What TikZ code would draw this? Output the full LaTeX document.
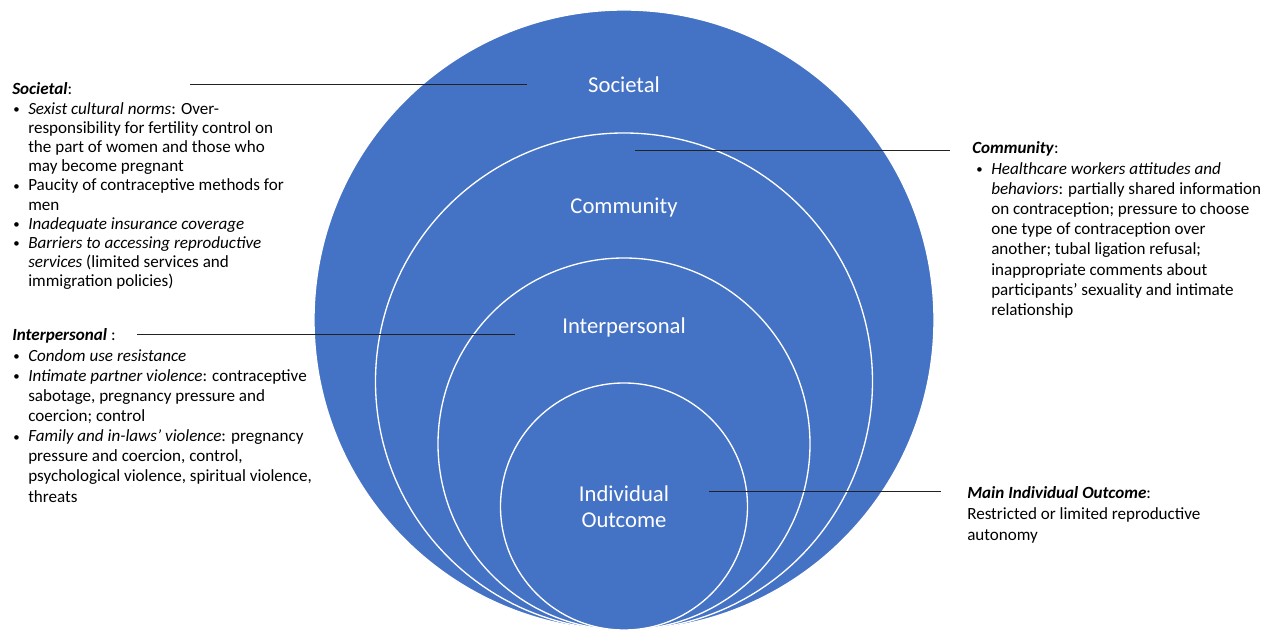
\documentclass[tikz,border=0pt]{standalone}
\usepackage{fontspec}
\setmainfont{Carlito}
\newlength\pxu
\setlength\pxu{0.75pt}
\definecolor{ringblue}{HTML}{4472C4}
\definecolor{leaderline}{HTML}{222222}
% body text size with a chosen line spacing
\newcommand\bodyfont[1]{\fontsize{12.8pt}{#1}\selectfont}
% bullet and hanging indent for the lists
\newcommand\bul{\makebox[16\pxu][l]{\hspace*{1\pxu}\raisebox{0.6\pxu}{\scalebox{0.75}{\textbullet}}}}
\newcommand\cont{\hspace*{16\pxu}}
\begin{document}
\begin{tikzpicture}[x=0.75pt,y=-0.75pt,
  ring/.style={circle,fill=ringblue,draw=white,line width=1pt,inner sep=0pt,outer sep=0pt},
  ringlabel/.style={text=white,font=\fontsize{17pt}{19.5pt}\selectfont,align=center,inner sep=0pt},
  textblock/.style={anchor=base west,inner sep=0pt},
  leader/.style={draw=leaderline,line width=0.7pt}]
\useasboundingbox (0,0) rectangle (1265,630);

% nested circles, all touching at the bottom
\node[ring,minimum size=620\pxu] (societal) at (624,320) {};
\node[ring,minimum size=497\pxu] (community) at (624,381.5) {};
\node[ring,minimum size=372\pxu] (interpersonal) at (624,444) {};
\node[ring,minimum size=247\pxu] (individual) at (624,506.5) {};

% circle labels
\node[ringlabel] (lsoc) at (624,85) {Societal};
\node[ringlabel] (lcom) at (624,208) {Community};
\node[ringlabel] (lint) at (624,327) {Interpersonal};
\node[ringlabel] (lind) at (624,507) {Individual\\Outcome};

% left side: societal factors
\node[textblock] (tsoc) at (12,95) {\parbox[t]{330\pxu}{\bodyfont{14.4pt}\raggedright
\textbf{\textit{Societal}}:\\
\bul\textit{Sexist cultural norms}: Over-\\
\cont responsibility for fertility control on\\
\cont the part of women and those who\\
\cont may become pregnant\\
\bul Paucity of contraceptive methods for\\
\cont men\\
\bul\textit{Inadequate insurance coverage}\\
\bul\textit{Barriers to accessing reproductive}\\
\cont\textit{services} (limited services and\\
\cont immigration policies)}};

% left side: interpersonal factors
\node[textblock] (tint) at (12,341) {\parbox[t]{330\pxu}{\bodyfont{15.1pt}\raggedright
\textbf{\textit{Interpersonal}} :\\
\bul\textit{Condom use resistance}\\
\bul\textit{Intimate partner violence}: contraceptive\\
\cont sabotage, pregnancy pressure and\\
\cont coercion; control\\
\bul\textit{Family and in-laws’ violence}: pregnancy\\
\cont pressure and coercion, control,\\
\cont psychological violence, spiritual violence,\\
\cont threats}};

% right side: community factors
\node[textblock] (tcom) at (972,154) {\parbox[t]{295\pxu}{\bodyfont{15.15pt}\raggedright
\textbf{\textit{Community}}:\\
\hspace*{3\pxu}\bul\textit{Healthcare workers attitudes and}\\
\hspace*{3\pxu}\cont\textit{behaviors}: partially shared information\\
\hspace*{3\pxu}\cont on contraception; pressure to choose\\
\hspace*{3\pxu}\cont one type of contraception over\\
\hspace*{3\pxu}\cont another; tubal ligation refusal;\\
\hspace*{3\pxu}\cont inappropriate comments about\\
\hspace*{3\pxu}\cont participants’ sexuality and intimate\\
\hspace*{3\pxu}\cont relationship}};

% right side: main outcome
\node[textblock] (tind) at (967,499) {\parbox[t]{295\pxu}{\bodyfont{15.4pt}\raggedright
\textbf{\textit{Main Individual Outcome}}:\\
Restricted or limited reproductive\\
autonomy}};

% leader lines
\coordinate (socA) at (190,84);
\coordinate (socB) at (527,84);
\coordinate (comA) at (635,150);
\coordinate (comB) at (950,150);
\coordinate (intA) at (137,334.5);
\coordinate (intB) at (515,334.5);
\coordinate (indA) at (709,491);
\coordinate (indB) at (941,491);
\draw[leader] (socA) -- (socB);
\draw[leader] (comA) -- (comB);
\draw[leader] (intA) -- (intB);
\draw[leader] (indA) -- (indB);
\end{tikzpicture}
\end{document}
